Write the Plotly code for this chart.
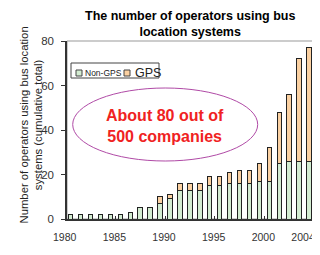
import plotly.graph_objects as go

years = list(range(1980, 2005))
non_gps = [2, 2, 2, 2, 2, 2, 3, 5, 5, 7, 9, 13, 13, 13, 15, 15, 16, 16, 16, 17, 17, 25, 26, 26, 26]
gps = [0, 0, 0, 0, 0, 0, 0, 0, 0, 3, 2, 3, 3, 3, 4, 4, 5, 6, 6, 8, 15, 23, 30, 46, 51]
tick_years = [1980, 1985, 1990, 1995, 2000, 2004]
y_ticks = [0, 20, 40, 60, 80]
series_names = ["Non-GPS", "GPS"]
series_colors = ["#d3ecd1", "#fbd1a2"]

title_text = "<b>The number of operators using bus<br>location systems</b>"
y_title = "Number of operators using bus location<br>systems (cumulative total)"
callout = "<b>About 80 out of<br>500 companies</b>"

FONT = "Liberation Sans, Arial, sans-serif"

fig = go.Figure()
for name, vals, col in zip(series_names, [non_gps, gps], series_colors):
    fig.add_trace(go.Bar(x=years, y=vals, name=name,
                         marker=dict(color=col, line=dict(color="#222222", width=1)),
                         width=0.45, showlegend=False))

# page offset (browser body margin) compensation
OX, OY = 8, 8
PW, PH = 320, 255
W, H = PW - OX, PH - OY
# plot area in page pixels
PL, PR, PT, PB = 67, 314, 41, 219
L, R, T, B = PL - OX, (OX + W) - PR, PT - OY, (OY + H) - PB
pw, ph = PR - PL, PB - PT


def px_x(x):
    return (x - PL) / pw


def px_y(y):
    return (PB - y) / ph


fig.update_layout(
    width=W, height=H, barmode="stack",
    margin=dict(l=L, r=R, t=T, b=B, pad=0),
    paper_bgcolor="white", plot_bgcolor="white",
    font=dict(family=FONT, color="#222222", size=11),
    xaxis=dict(range=[1979.63, 2004.5], tickvals=tick_years, ticktext=[str(t) for t in tick_years],
               showgrid=False, zeroline=False, showline=True, linecolor="#333333", linewidth=1.5,
               ticks="", ticklabelstandoff=8, ticklabelshift=-6, ticklabeloverflow="allow",
               tickfont=dict(family=FONT, size=10.5, color="#333333"),
               automargin=False,
               minor=dict(tickvals=[1984.5, 1989.5, 1994.5, 1999.5], ticks="inside", ticklen=3,
                          tickcolor="#333333", showgrid=False)),
    yaxis=dict(range=[0, 80], tickvals=y_ticks, showgrid=False, zeroline=False, showline=True,
               linecolor="#333333", linewidth=1.5, ticks="outside", ticklen=4, tickcolor="#333333",
               ticklabelstandoff=5, automargin=False,
               tickfont=dict(family=FONT, size=11.5, color="#333333")),
)

# chart title
fig.add_annotation(text=title_text, xref="paper", yref="paper", x=px_x(190), y=px_y(24.5),
                   xanchor="center", yanchor="middle", showarrow=False,
                   font=dict(family=FONT, size=12.5, color="black"))

# frame (top/right border in gray)
fig.add_shape(type="rect", xref="paper", yref="paper", x0=0, x1=1, y0=0, y1=1,
              line=dict(color="#999999", width=1), layer="below")

# y axis title
fig.add_annotation(text=y_title, xref="paper", yref="paper", x=px_x(30.5), y=px_y(125),
                   xanchor="center", yanchor="middle", textangle=-90, showarrow=False,
                   font=dict(family=FONT, size=11.3, color="#222222"))

# ellipse callout
fig.add_shape(type="circle", xref="paper", yref="paper", x0=px_x(72.7), x1=px_x(257.7),
              y0=px_y(161), y1=px_y(88), line=dict(color="#b04aa6", width=1))
fig.add_annotation(text=callout, xref="paper", yref="paper", x=px_x(165), y=px_y(126),
                   xanchor="center", yanchor="middle", showarrow=False,
                   font=dict(family=FONT, size=16, color="#f02222"))

# legend box (manual)
fig.add_shape(type="rect", xref="paper", yref="paper", x0=px_x(71), x1=px_x(159), y0=px_y(78), y1=px_y(63),
              line=dict(color="#444444", width=1), fillcolor="white")
leg_items = [(76, 83, 8.5), (124, 133, 12.5)]
for (sx, tx, fs), name, col in zip(leg_items, series_names, series_colors):
    fig.add_shape(type="rect", xref="paper", yref="paper", x0=px_x(sx), x1=px_x(sx + 6),
                  y0=px_y(76), y1=px_y(70), line=dict(color="#444444", width=1), fillcolor=col)
    fig.add_annotation(text=name, xref="paper", yref="paper", x=px_x(tx), y=px_y(72.5),
                       xanchor="left", yanchor="middle", showarrow=False,
                       font=dict(family=FONT, size=fs, color="#222222"))

fig.write_html("out.html")
